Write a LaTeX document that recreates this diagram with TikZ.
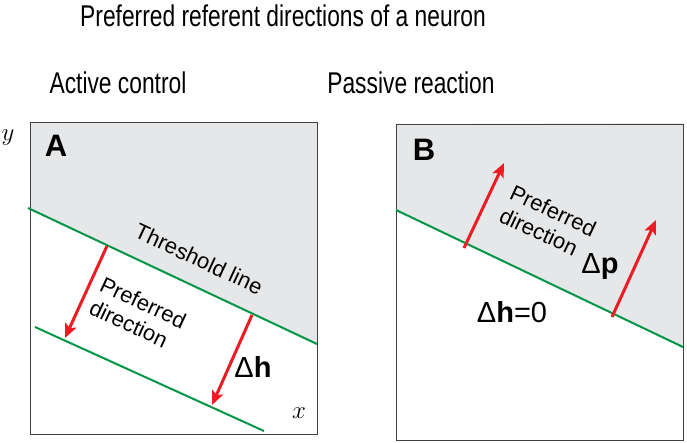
\documentclass[tikz,border=0pt]{standalone}
\usepackage{fontspec}
\setmainfont{Liberation Sans}
\newfontfamily\narrowfont[FakeStretch=0.76]{Liberation Sans}
\usepackage{xcolor}
\usetikzlibrary{arrows.meta}
\definecolor{panelgray}{RGB}{230,231,232}
\definecolor{thrgreen}{RGB}{0,150,70}
\definecolor{arrred}{RGB}{237,28,36}
\tikzstyle{heading} = [font=\narrowfont\fontsize{30}{32}\selectfont, anchor=base, inner sep=0pt]
\tikzstyle{panel} = [draw=black!75, line width=0.8pt]
\tikzstyle{threshold} = [draw=thrgreen, line width=2pt]
\tikzstyle{line} = [draw=arrred, line width=3pt, -{Stealth[length=14pt,width=12pt,inset=3pt]}]
\tikzstyle{tag} = [font=\fontsize{31}{31}\selectfont\bfseries, inner sep=0pt]
\tikzstyle{note} = [font=\fontsize{22}{25}\selectfont, align=left, rotate=-25, inner sep=0pt]
\tikzstyle{delta} = [font=\fontsize{29}{29}\selectfont, inner sep=0pt]
\tikzstyle{axis} = [font=\fontsize{26}{26}\selectfont, inner sep=0pt]

\begin{document}
\begin{tikzpicture}[x=1pt, y=-1pt]
	\useasboundingbox (0,0) rectangle (687,442);
	
	% Shaded regions above the threshold lines
	\fill [panelgray] (30,122) -- (317,122) -- (317,344) -- (30,209) -- cycle;
	\fill [panelgray] (397,124) -- (683,123) -- (683,347) -- (396,210) -- cycle;
	
	% Panel frames
	\draw [panel] (30,122) rectangle (317,434);
	\draw [panel] (396,124) rectangle (683,440);
	
	% Place coordinates
	\coordinate (Threshold A west)	at (28,208);
	\coordinate (Threshold A east)	at (317,344);
	\coordinate (Shifted A west)	at (35,327);
	\coordinate (Shifted A east)	at (264,431);
	\coordinate (Threshold B west)	at (396,210);
	\coordinate (Threshold B east)	at (683,347);
	\coordinate (A1 start)	at (107,246);
	\coordinate (A1 end)	at (65,338);
	\coordinate (A2 start)	at (252,315);
	\coordinate (A2 end)	at (212,405);
	\coordinate (B1 start)	at (464,248);
	\coordinate (B1 end)	at (504,163);
	\coordinate (B2 start)	at (612,317);
	\coordinate (B2 end)	at (656,220);
	
	% Place nodes
	\node [heading] (Title)		at (283,26)	{Preferred referent directions of a neuron};
	\node [heading] (Active)	at (118,93)	{Active control};
	\node [heading] (Passive)	at (411,93)	{Passive reaction};
	\node [tag] (A)	at (56,146)	{A};
	\node [tag] (B)	at (424,150)	{B};
	\node [axis] (y axis)	at (8,138)	{$y$};
	\node [axis] (x axis)	at (299,413)	{$x$};
	\node [note] (Threshold)	at (199,259)	{Threshold line};
	\node [note] (Pref A)	at (138,314)	{Preferred\\direction};
	\node [note] (Pref B)	at (548,222)	{Preferred\\direction};
	\node [delta] (dh)	at (253,367)	{Δ\textbf{h}};
	\node [delta] (dp)	at (600,267)	{Δ\textbf{p}};
	\node [delta] (dh0)	at (512,312)	{Δ\textbf{h}=0};
	
	%Draw edges
	\path [threshold] (Threshold A west)	--	(Threshold A east);
	\path [threshold] (Shifted A west)		--	(Shifted A east);
	\path [threshold] (Threshold B west)	--	(Threshold B east);
	\path [line] (A1 start)	--	(A1 end);
	\path [line] (A2 start)	--	(A2 end);
	\path [line] (B1 start)	--	(B1 end);
	\path [line] (B2 start)	--	(B2 end);
	
\end{tikzpicture}
\end{document}
